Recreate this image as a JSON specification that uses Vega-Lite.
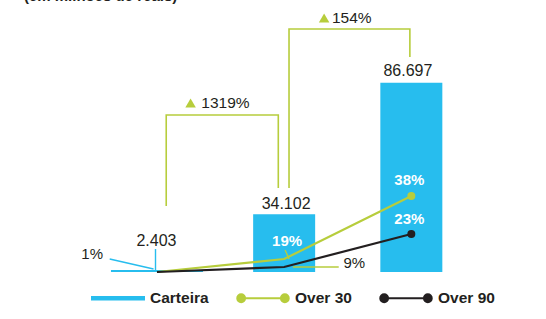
{
  "$schema": "https://vega.github.io/schema/vega-lite/v6.json",
  "autosize": {"type": "none"},
  "padding": {"left": 93, "top": 10, "right": 59, "bottom": 47},
  "width": 394,
  "height": 262,
  "background": "white",
  "config": {"view": {"stroke": null}, "font": "Liberation Sans"},
  "datasets": {
    "titulo": [{"texto": "(em milhões de reais)", "x": -0.046, "y": 115020}],
    "carteira": [
      {"periodo": 1, "serie": "Carteira", "valor": 2403},
      {"periodo": 2, "serie": "Carteira", "valor": 34102},
      {"periodo": 3, "serie": "Carteira", "valor": 86697}
    ],
    "atraso": [
      {"periodo": 1, "serie": "Over 30", "valor": 24},
      {"periodo": 2, "serie": "Over 30", "valor": 10520},
      {"periodo": 3, "serie": "Over 30", "valor": 42270},
      {"periodo": 1, "serie": "Over 90", "valor": 0},
      {"periodo": 2, "serie": "Over 90", "valor": 4960},
      {"periodo": 3, "serie": "Over 90", "valor": 24490}
    ],
    "chaves": [
      {"trecho": "1319%", "ordem": 1, "x": 1.0728, "y": 37820},
      {"trecho": "1319%", "ordem": 2, "x": 1.0728, "y": 74830},
      {"trecho": "1319%", "ordem": 3, "x": 1.954, "y": 74830},
      {"trecho": "1319%", "ordem": 4, "x": 1.954, "y": 45730},
      {"trecho": "154%", "ordem": 1, "x": 2.0383, "y": 45730},
      {"trecho": "154%", "ordem": 2, "x": 2.0383, "y": 105550},
      {"trecho": "154%", "ordem": 3, "x": 2.9885, "y": 105550},
      {"trecho": "154%", "ordem": 4, "x": 2.9885, "y": 95850}
    ],
    "variacao": [
      {"texto": "1319%", "xs": 1.2644, "xt": 1.3487, "y": 79300},
      {"texto": "154%", "xs": 2.3142, "xt": 2.3755, "y": 109300}
    ],
    "guias": [
      {"guia": "a", "serie": "Carteira", "ordem": 1, "x": 0.6284, "y": 10520},
      {"guia": "a", "serie": "Carteira", "ordem": 2, "x": 0.9732, "y": 3317},
      {"guia": "b", "serie": "Carteira", "ordem": 1, "x": 0.9885, "y": 16490},
      {"guia": "b", "serie": "Carteira", "ordem": 2, "x": 0.9885, "y": 2412},
      {"guia": "c", "serie": "Over 30", "ordem": 1, "x": 2.0077, "y": 15920},
      {"guia": "c", "serie": "Over 30", "ordem": 2, "x": 2.0383, "y": 10520},
      {"guia": "d", "serie": "Over 30", "ordem": 1, "x": 2.069, "y": 4960},
      {"guia": "d", "serie": "Over 30", "ordem": 2, "x": 2.4291, "y": 4960}
    ],
    "rotulos": [
      {"texto": "1%", "x": 0.4904, "y": 13600, "tipo": "externo"},
      {"texto": "9%", "x": 2.5517, "y": 7877, "tipo": "externo"},
      {"texto": "2.403", "x": 0.9962, "y": 20860, "tipo": "valor"},
      {"texto": "34.102", "x": 2.0153, "y": 38720, "tipo": "valor"},
      {"texto": "86.697", "x": 2.9732, "y": 91080, "tipo": "valor"},
      {"texto": "19%", "x": 2.023, "y": 20860, "tipo": "interno"},
      {"texto": "38%", "x": 2.9847, "y": 49130, "tipo": "interno"},
      {"texto": "23%", "x": 2.9847, "y": 31820, "tipo": "interno"}
    ]
  },
  "layer": [
    {
      "data": {"name": "carteira"},
      "mark": {"type": "bar", "clip": false},
      "encoding": {
        "x": {"field": "periodo", "type": "quantitative", "scale": {"domain": [0.5364, 3.5556], "nice": false, "zero": false},
              "axis": {"title": null, "labels": false, "ticks": false, "grid": false, "domainColor": "#b7cd3c", "domainWidth": 2}},
        "y": {"field": "valor", "type": "quantitative", "scale": {"type": "pow", "exponent": 1.27, "domain": [0, 112000], "nice": false}, "axis": null},
        "size": {"condition": {"test": "datum.periodo === 1", "value": 92}, "value": 62},
        "color": {"field": "serie", "type": "nominal",
          "scale": {"domain": ["Carteira", "Over 30", "Over 90"], "range": ["#27bdee", "#b7cd3c", "#231f20"]},
          "legend": {
            "title": null, "orient": "none", "legendX": -2, "legendY": 261, "direction": "horizontal",
            "symbolSize": 2704, "symbolStrokeWidth": 2, "labelFont": "Liberation Sans", "labelFontSize": 15.5, "labelFontWeight": "bold",
            "labelColor": "#231f20", "labelOffset": 5, "columnPadding": 24, "padding": 0,
            "encode": {"symbols": {"update": {
              "shape": {"signal": "datum.value === 'Carteira' ? 'M-1,-0.05H1V0.05H-1Z' : 'M-0.84,0H0.84M-0.99,0a0.15,0.15 0 1,0 0.3,0a0.15,0.15 0 1,0 -0.3,0M0.69,0a0.15,0.15 0 1,0 0.3,0a0.15,0.15 0 1,0 -0.3,0'"},
              "size": {"value": 2704},
              "strokeWidth": {"value": 2},
              "fill": {"scale": "color", "field": "value"},
              "stroke": {"scale": "color", "field": "value"},
              "opacity": {"value": 1},
              "fillOpacity": {"value": 1},
              "strokeOpacity": {"value": 1}
            }}}
          }
        }
      }
    },
    {
      "data": {"name": "atraso"},
      "mark": {"type": "line", "strokeWidth": 2.2, "clip": false},
      "encoding": {
        "x": {"field": "periodo", "type": "quantitative", "axis": null},
        "y": {"field": "valor", "type": "quantitative", "axis": null},
        "color": {"field": "serie", "type": "nominal"}
      }
    },
    {
      "data": {"name": "atraso"},
      "transform": [{"filter": "datum.periodo === 3"}],
      "mark": {"type": "point", "filled": true, "opacity": 1, "size": 64, "clip": false},
      "encoding": {
        "x": {"field": "periodo", "type": "quantitative", "axis": null},
        "y": {"field": "valor", "type": "quantitative", "axis": null},
        "color": {"field": "serie", "type": "nominal"}
      }
    },
    {
      "data": {"name": "chaves"},
      "mark": {"type": "line", "color": "#b7cd3c", "strokeWidth": 1.6, "clip": false},
      "encoding": {
        "x": {"field": "x", "type": "quantitative", "axis": null},
        "y": {"field": "y", "type": "quantitative", "axis": null},
        "detail": {"field": "trecho"},
        "order": {"field": "ordem"}
      }
    },
    {
      "data": {"name": "guias"},
      "mark": {"type": "line", "strokeWidth": 1.4, "clip": false},
      "encoding": {
        "x": {"field": "x", "type": "quantitative", "axis": null},
        "y": {"field": "y", "type": "quantitative", "axis": null},
        "detail": {"field": "guia"},
        "order": {"field": "ordem"},
        "color": {"field": "serie", "type": "nominal"}
      }
    },
    {
      "data": {"name": "variacao"},
      "mark": {"type": "point", "shape": "triangle-up", "filled": true, "opacity": 1, "size": 110, "color": "#b7cd3c", "clip": false},
      "encoding": {
        "x": {"field": "xs", "type": "quantitative", "axis": null},
        "y": {"field": "y", "type": "quantitative", "axis": null}
      }
    },
    {
      "data": {"name": "variacao"},
      "mark": {"type": "text", "align": "left", "baseline": "middle", "fontSize": 15.5, "color": "#231f20", "clip": false},
      "encoding": {
        "x": {"field": "xt", "type": "quantitative", "axis": null},
        "y": {"field": "y", "type": "quantitative", "axis": null},
        "text": {"field": "texto"}
      }
    },
    {
      "data": {"name": "rotulos"},
      "transform": [{"filter": "datum.tipo === 'valor'"}],
      "mark": {"type": "text", "align": "center", "baseline": "middle", "fontSize": 16, "color": "#231f20", "clip": false},
      "encoding": {
        "x": {"field": "x", "type": "quantitative", "axis": null},
        "y": {"field": "y", "type": "quantitative", "axis": null},
        "text": {"field": "texto"}
      }
    },
    {
      "data": {"name": "rotulos"},
      "transform": [{"filter": "datum.tipo === 'externo'"}],
      "mark": {"type": "text", "align": "center", "baseline": "middle", "fontSize": 15, "color": "#231f20", "clip": false},
      "encoding": {
        "x": {"field": "x", "type": "quantitative", "axis": null},
        "y": {"field": "y", "type": "quantitative", "axis": null},
        "text": {"field": "texto"}
      }
    },
    {
      "data": {"name": "rotulos"},
      "transform": [{"filter": "datum.tipo === 'interno'"}],
      "mark": {"type": "text", "align": "center", "baseline": "middle", "fontSize": 15, "fontWeight": "bold", "color": "white", "clip": false},
      "encoding": {
        "x": {"field": "x", "type": "quantitative", "axis": null},
        "y": {"field": "y", "type": "quantitative", "axis": null},
        "text": {"field": "texto"}
      }
    },
    {
      "data": {"name": "titulo"},
      "mark": {"type": "text", "align": "left", "baseline": "alphabetic", "fontSize": 15, "fontWeight": "bold", "color": "#231f20", "clip": false},
      "encoding": {
        "x": {"field": "x", "type": "quantitative", "axis": null},
        "y": {"field": "y", "type": "quantitative", "axis": null},
        "text": {"field": "texto"}
      }
    },
    {
      "mark": {"type": "rule", "color": "#27bdee", "strokeWidth": 2, "clip": false},
      "encoding": {
        "x": {"datum": -0.1762, "type": "quantitative", "axis": null},
        "x2": {"datum": 4.0077},
        "y": {"datum": -27980, "type": "quantitative", "axis": null}
      }
    }
  ]
}
